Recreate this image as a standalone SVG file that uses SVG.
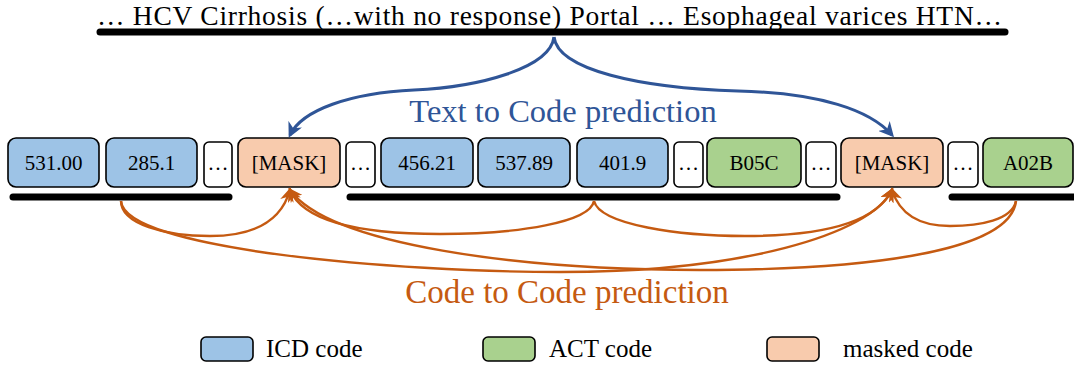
<svg xmlns="http://www.w3.org/2000/svg" width="1074" height="372" viewBox="0 0 1074 372" font-family="'Liberation Serif','Times New Roman',serif">
<style>
text{font-family:"Liberation Serif","Times New Roman",serif}
.t{fill:#000}
.lbl{font-size:21px;text-anchor:middle}
.bar{stroke:#000;stroke-width:7;stroke-linecap:round}
.box{stroke:#000;stroke-width:1.6}
.icd{fill:#9DC3E6}
.act{fill:#A9D18E}
.msk{fill:#F8CBAD}
.dot{fill:#fff}
.blue{fill:none;stroke:#2F5597;stroke-width:3}
.org{fill:none;stroke:#C55A11;stroke-width:2.4}
</style>
<defs>
<marker id="ab" viewBox="0 0 10 10" refX="8" refY="5" markerWidth="15" markerHeight="15" markerUnits="userSpaceOnUse" orient="auto">
<path d="M0,0 L10,5 L0,10 L3,5 z" fill="#2F5597"/>
</marker>
<marker id="ao" viewBox="0 0 10 10" refX="8" refY="5" markerWidth="14" markerHeight="14" markerUnits="userSpaceOnUse" orient="auto">
<path d="M0,0 L10,5 L0,10 L3,5 z" fill="#C55A11"/>
</marker>
</defs>

<g id="sentence">
<text class="t" x="97" y="24.5" font-size="27.5" textLength="905" lengthAdjust="spacing">… HCV Cirrhosis (…with no response) Portal … Esophageal varices HTN…</text>
<line class="bar" x1="100" y1="32" x2="1005" y2="32"/>
</g>

<g id="bars">
<line class="bar" x1="13" y1="197" x2="229" y2="197"/>
<line class="bar" x1="350" y1="197" x2="837" y2="197"/>
<line class="bar" x1="952" y1="197" x2="1080" y2="197"/>
</g>

<g id="n1"><rect class="box icd" x="8" y="138" width="91" height="49" rx="8"/><text class="t lbl" x="53.5" y="170" font-family="'Liberation Serif',serif">531.00</text></g>
<g id="n2"><rect class="box icd" x="106" y="138" width="91" height="49" rx="8"/><text class="t lbl" x="151.5" y="170" font-family="'Liberation Serif',serif">285.1</text></g>
<g id="n3"><rect class="box dot" x="204" y="142" width="28" height="45" rx="5"/><text class="t lbl" x="218" y="170" font-family="'Liberation Serif',serif">…</text></g>
<g id="n4"><rect class="box msk" x="238" y="138" width="102" height="49" rx="8"/><text class="t lbl" x="289" y="170" font-family="'Liberation Serif',serif">[MASK]</text></g>
<g id="n5"><rect class="box dot" x="346" y="142" width="29" height="45" rx="5"/><text class="t lbl" x="360.5" y="170" font-family="'Liberation Serif',serif">…</text></g>
<g id="n6"><rect class="box icd" x="381" y="138" width="92" height="49" rx="8"/><text class="t lbl" x="427" y="170" font-family="'Liberation Serif',serif">456.21</text></g>
<g id="n7"><rect class="box icd" x="478" y="138" width="92" height="49" rx="8"/><text class="t lbl" x="524" y="170" font-family="'Liberation Serif',serif">537.89</text></g>
<g id="n8"><rect class="box icd" x="577" y="138" width="91" height="49" rx="8"/><text class="t lbl" x="622.5" y="170" font-family="'Liberation Serif',serif">401.9</text></g>
<g id="n9"><rect class="box dot" x="674" y="142" width="29" height="45" rx="5"/><text class="t lbl" x="688.5" y="170" font-family="'Liberation Serif',serif">…</text></g>
<g id="n10"><rect class="box act" x="707" y="138" width="94" height="49" rx="8"/><text class="t lbl" x="754" y="170" font-family="'Liberation Serif',serif">B05C</text></g>
<g id="n11"><rect class="box dot" x="806" y="142" width="30" height="45" rx="5"/><text class="t lbl" x="821" y="170" font-family="'Liberation Serif',serif">…</text></g>
<g id="n12"><rect class="box msk" x="841" y="138" width="102" height="49" rx="8"/><text class="t lbl" x="892" y="170" font-family="'Liberation Serif',serif">[MASK]</text></g>
<g id="n13"><rect class="box dot" x="948" y="142" width="30" height="45" rx="5"/><text class="t lbl" x="963" y="170" font-family="'Liberation Serif',serif">…</text></g>
<g id="n14"><rect class="box act" x="983" y="138" width="90" height="49" rx="8"/><text class="t lbl" x="1028" y="170" font-family="'Liberation Serif',serif">A02B</text></g>

<g id="connectors">
<path class="blue" d="M554,37 C550,68 480,87 414,90 C350,93 302,110 290,135" marker-end="url(#ab)"/>
<path class="blue" d="M554,37 C558,70 640,88 738,91 C820,93 870,110 892,135" marker-end="url(#ab)"/>
<path class="org" d="M121,201 C121,224 165,236 210,236 C252,236 281,222 290,190" marker-end="url(#ao)"/>
<path class="org" d="M121,201 C125,250 400,272 560,272 C740,272 870,235 892,190" marker-end="url(#ao)"/>
<path class="org" d="M594,201 C590,222 520,234 440,234 C370,234 305,225 290,190" marker-end="url(#ao)"/>
<path class="org" d="M594,201 C600,225 680,236 745,236 C815,236 875,225 892,190" marker-end="url(#ao)"/>
<path class="org" d="M1016,201 C1012,220 980,226 950,226 C920,226 900,215 892,190" marker-end="url(#ao)"/>
<path class="org" d="M1016,201 C1010,255 850,270 700,270 C520,270 330,245 290,190" marker-end="url(#ao)"/>
</g>

<g id="labels">
<text x="563" y="122" font-size="32.5" text-anchor="middle" fill="#2F5597" font-family="'Liberation Serif',serif">Text to Code prediction</text>
<text x="567" y="303" font-size="33" text-anchor="middle" fill="#C55A11" font-family="'Liberation Serif',serif">Code to Code prediction</text>
</g>

<g id="legend">
<rect class="box icd" x="201" y="337" width="52" height="24" rx="5"/>
<text class="t" x="266" y="357" font-size="25" font-family="'Liberation Serif',serif">ICD code</text>
<rect class="box act" x="483" y="337" width="52" height="24" rx="5"/>
<text class="t" x="549" y="357" font-size="25" font-family="'Liberation Serif',serif">ACT code</text>
<rect class="box msk" x="767" y="337" width="52" height="24" rx="5"/>
<text class="t" x="843" y="357" font-size="25" font-family="'Liberation Serif',serif">masked code</text>
</g>
</svg>
